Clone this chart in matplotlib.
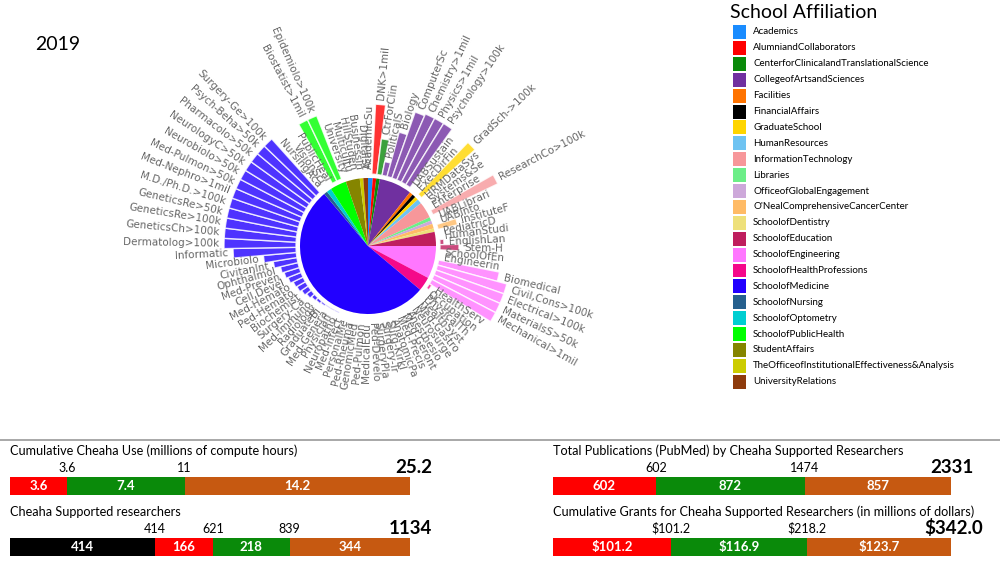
import numpy as np
import matplotlib.pyplot as plt
from matplotlib.patches import Rectangle
from matplotlib.lines import Line2D

plt.rcParams['font.family'] = 'DejaVu Sans'

year = "2019"

# schools (pie + legend)
schools = ["Academics", "AlumniandCollaborators", "CenterforClinicalandTranslationalScience",
           "CollegeofArtsandSciences", "Facilities", "FinancialAffairs", "GraduateSchool",
           "HumanResources", "InformationTechnology", "Libraries", "OfficeofGlobalEngagement",
           "O'NealComprehensiveCancerCenter", "SchoolofDentistry", "SchoolofEducation",
           "SchoolofEngineering", "SchoolofHealthProfessions", "SchoolofMedicine",
           "SchoolofNursing", "SchoolofOptometry", "SchoolofPublicHealth", "StudentAffairs",
           "TheOfficeofInstitutionalEffectiveness&Analysis", "UniversityRelations"]
school_colors = ["#1A8CFF", "#FF0000", "#0A8A0A", "#7030A0", "#FF7300", "#000000", "#FFD500",
                 "#6EC3F2", "#F7979A", "#6CEE88", "#CDA8DA", "#FFBB66", "#EEE07A", "#BF1E5E",
                 "#FF77FF", "#F5088A", "#2200FF", "#26608E", "#00CED1", "#00FF00", "#858500",
                 "#CCCC00", "#8E3B0C"]
school_share = [4, 3, 3, 28, 3, 3, 3, 4, 14, 3, 3, 4, 3, 12, 28, 12, 190, 3, 4, 14, 12, 3, 4]

# departments (outer bars)
dept_labels = ["AcademicSu", "DNK>1mil", "CtrForClin", "PoliticalS", "Biology", "ComputerSc",
               "Chemistry>1mil", "Physics>1mil", "Psychology>100k", "UABSustain", "ExecDirFin",
               "GradSch->100k", "HRMDataSys", "Systems&Se", "Enterprise", "ResearchCo>100k",
               "UABLibrari", "UABInto", "InstituteF", "PediatricD", "HumanStudi", "EnglishLan",
               "Stem-H", "SchoolOfEn", "Engineerin", "Biomedical", "Civil,Cons>100k",
               "Electrical>100k", "MaterialsS>50k", "Mechanical>1mil", "HealthServ", "Occupation",
               "PhysicalTh", "HealthSyst", "Med-Gastro", "Neurosurge", "Anesthesio", "Med-Geront",
               "Med-Precis", "AnatomicPa", "Surg-Kirkl", "Surgery-Tr", "SurgeryPla", "Ped-Develo",
               "MedicalEdu", "Ped-Pulmon", "GenomicMed", "Ped-Rheuma", "PersonalMe", "Med-Infect",
               "Neuropatho", "Physician", "Med-Genera", "GraduateBi", "Radiology", "Med-Immuno",
               "Surgery-Ca", "Biochemist", "Ped-Hemato", "Med-Hemato", "Cell,Devel", "Med-Preven",
               "Ophthalmol", "CivitanInt", "Microbiolo", "Informatic", "Dermatolog>100k",
               "GeneticsCh>100k", "GeneticsRe>100k", "GeneticsRe>50k", "M.D./Ph.D.>100k",
               "Med-Nephro>1mil", "Med-Pulmon>50k", "Neurobiolo>50k", "NeurologyC>50k",
               "Pharmacolo>50k", "Psych-Beha>50k", "Surgery-Ge>100k", "NursingAca", "VisionSci",
               "PublicHeal", "Biostatist>1mil", "Epidemiolo>100k", "University", "Multicultu",
               "HillStuden", "BusinessIn", "DigitalSt"]
dept_school = [0, 1, 2, 3, 3, 3, 3, 3, 3, 4, 5, 6, 7, 8, 8, 8, 9, 10, 11, 12, 13, 13, 13,
               14, 14, 14, 14, 14, 14, 14, 15, 15, 15, 15] + [16] * 44 + \
              [17, 18, 19, 19, 19, 20, 20, 20, 21, 22]
dept_height = [0, 70, 36, 14, 46, 70, 72, 72, 72, 0, 0, 72, 0, 0, 0, 72, 0, 0, 20, 0, 0, 4, 19,
               0, 0, 62, 72, 72, 72, 72, 3, 0, 0, 0,
               0, 0, 0, 0, 0, 0, 0, 0, 0, 0, 0, 0, 0, 0, 0, 0, 1, 1, 1, 2, 3, 4, 6, 8, 10, 11,
               14, 16, 18, 24, 33, 63, 72, 72, 72, 72, 72, 72, 72, 72, 72, 72, 72, 72,
               0, 0, 0, 68, 68, 0, 0, 0, 0, 0]

# bottom summary bars
use_vals = [3.6, 7.4, 14.2]
use_cum = ["3.6", "11"]
use_total = "25.2"
res_vals = [414, 166, 218, 344]
res_cum = ["414", "621", "839"]
res_total = "1134"
pub_vals = [602, 872, 857]
pub_cum = ["602", "1474"]
pub_total = "2331"
grant_vals = [101.2, 116.9, 123.7]
grant_cum = ["$101.2", "$218.2"]
grant_total = "$342.0"

W, H = 1000, 563
fig = plt.figure(figsize=(W / 100, H / 100), dpi=100)

# polar chart
cx, cy, R = 368, 246, 150
ax = fig.add_axes([(cx - R) / W, 1 - (cy + R) / H, 2 * R / W, 2 * R / H], projection='polar')
ax.set_theta_zero_location('N')
ax.set_theta_direction(-1)
ax.set_ylim(0, R)
ax.set_axis_off()

share = np.array(school_share, float)
wedge = share / share.sum() * 2 * np.pi
wstart = np.concatenate([[0], np.cumsum(wedge)[:-1]])
ax.bar(wstart, 68, width=wedge, bottom=0, align='edge', color=school_colors, linewidth=0)

n = len(dept_labels)
step = 2 * np.pi / n
theta = np.deg2rad(1.0) + np.arange(n) * step
bar_colors = [school_colors[s] for s in dept_school]
ax.bar(theta, dept_height, width=step, bottom=72, color=bar_colors, alpha=0.8,
       edgecolor='white', linewidth=1)

for t, lab, h in zip(theta, dept_labels, dept_height):
    deg = np.rad2deg(t)
    if deg <= 180:
        rot, ha = 90 - deg, 'left'
    else:
        rot, ha = 270 - deg, 'right'
    ax.text(t, 72 + h + 5, lab, rotation=rot, rotation_mode='anchor', ha=ha, va='center',
            fontsize=7.5, color='#666666')

fig.text(35 / W, 1 - 45 / H, year, fontsize=14, family='Lato', va='center')

# legend (drawn by hand so the rows match)
fig.text(730 / W, 1 - 13 / H, 'School Affiliation', fontsize=14, family='Lato', va='center')
for i, (name, c) in enumerate(zip(schools, school_colors)):
    yc = 32 + i * 15.9
    fig.add_artist(Rectangle((733 / W, 1 - (yc + 7) / H), 13 / W, 14 / H,
                             transform=fig.transFigure, facecolor=c, edgecolor='none'))
    fig.text(753 / W, 1 - yc / H, name, fontsize=7, family='Lato', va='center')

fig.add_artist(Line2D([0, 1], [1 - 440 / H] * 2, color='#999999', lw=1.2))


def stacked(x0, x1, ytop, title, vals, colors, cum, total, money=False):
    bx = fig.add_axes([x0 / W, 1 - (ytop + 18) / H, (x1 - x0) / W, 18 / H])
    left = np.concatenate([[0], np.cumsum(vals)[:-1]])
    bx.barh(0, vals, left=left, height=1, color=colors, edgecolor='none')
    tot = sum(vals)
    bx.set_xlim(0, tot)
    bx.set_ylim(-0.5, 0.5)
    bx.axis('off')
    for l, v in zip(left, vals):
        s = ("$%.1f" % v) if money else ("%g" % v)
        bx.text(l + v / 2, 0, s, ha='center', va='center', color='white', fontsize=9.5,
                family='Lato', fontweight='bold')
    for c, s in zip(np.cumsum(vals)[:-1], cum):
        bx.annotate(s, (c, 0.5), xytext=(0, 2.5), textcoords='offset points', ha='center',
                    va='bottom', fontsize=9, family='Lato')
    bx.annotate(total, (tot, 0.5), xytext=(16 if not money else 23, 1), textcoords='offset points',
                ha='right', va='bottom', fontsize=13.5, family='Lato', fontweight='bold')
    bx.annotate(title, (0, 0.5), xytext=(0, 14.5), textcoords='offset points', ha='left',
                va='bottom', fontsize=9.1, family='Lato')


red, green, orange = '#FF0000', '#0A8A0A', '#C65911'
stacked(10, 410, 477, "Cumulative Cheaha Use (millions of compute hours)", use_vals,
        [red, green, orange], use_cum, use_total)
stacked(10, 410, 538, "Cheaha Supported researchers", res_vals,
        ['#000000', red, green, orange], res_cum, res_total)
stacked(553, 951, 477, "Total Publications (PubMed) by Cheaha Supported Researchers", pub_vals,
        [red, green, orange], pub_cum, pub_total)
stacked(553, 951, 538, "Cumulative Grants for Cheaha Supported Researchers (in millions of dollars)",
        grant_vals, [red, green, orange], grant_cum, grant_total, money=True)

fig.savefig('out.png', dpi=100)
